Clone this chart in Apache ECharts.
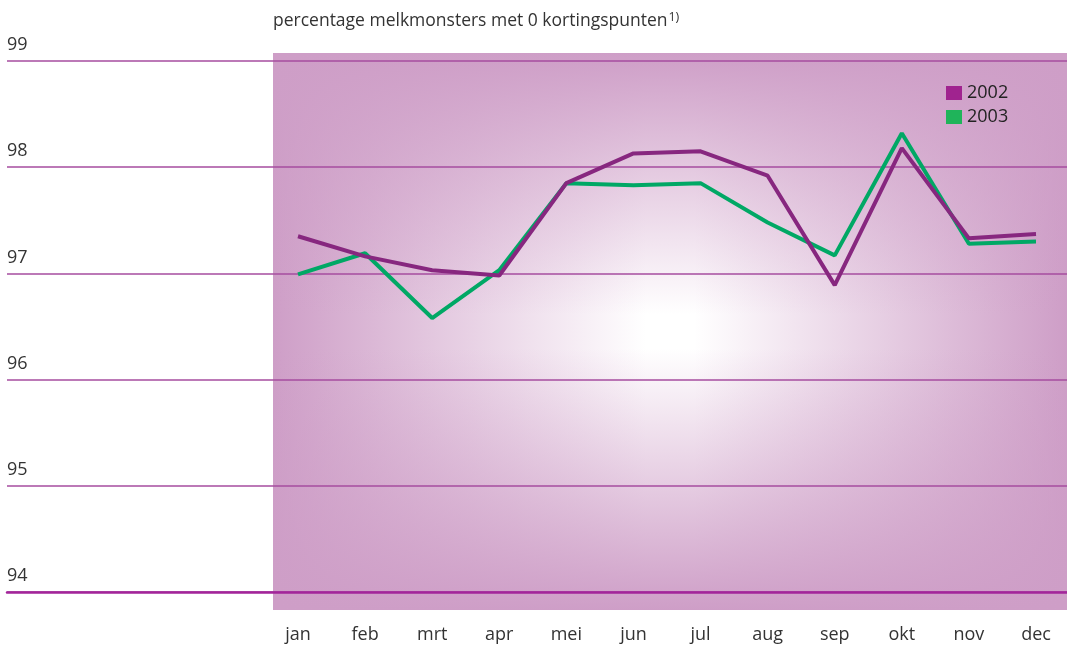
<!DOCTYPE html>
<html lang="nl">
<head>
    <meta charset="UTF-8">
    <title>melkmonsters</title>
    <script src="https://cdn.jsdelivr.net/npm/echarts@6/dist/echarts.min.js"></script>
    <style type="text/css">
        html, body { margin: 0; padding: 0; background: #fff; }
        #chart { width: 1067px; height: 649px; }
    </style>
</head>
<body>
<div id="chart"></div>
<script type="text/javascript">
    var months = ['jan', 'feb', 'mrt', 'apr', 'mei', 'jun', 'jul', 'aug', 'sep', 'okt', 'nov', 'dec'];
    var data2002 = [97.35, 97.16, 97.03, 96.98, 97.85, 98.13, 98.15, 97.92, 96.89, 98.18, 97.33, 97.37];
    var data2003 = [96.99, 97.19, 96.58, 97.03, 97.85, 97.83, 97.85, 97.48, 97.17, 98.32, 97.28, 97.30];
    var yMin = 94, yMax = 99;

    var font = '"Open Sans", "Noto Sans", sans-serif';
    var edge = 'rgba(206,158,199,1)';
    var clear = 'rgba(206,158,199,0)';

    var chart = echarts.init(document.getElementById('chart'));

    // achtergrondvlak met verloop naar wit in het midden
    function fade(x2, y2) {
        return new echarts.graphic.LinearGradient(0, 0, x2, y2, [
            { offset: 0, color: edge }, { offset: 0.47, color: clear },
            { offset: 0.53, color: clear }, { offset: 1, color: edge }]);
    }
    var plotRect = { x: 273, y: 53, width: 794, height: 557 };

    var option = {
        animation: false,
        textStyle: { fontFamily: font },
        title: {
            text: 'percentage melkmonsters met 0 kortingspunten{sup|1)}',
            left: 268,
            top: 6,
            textStyle: {
                fontFamily: font, fontSize: 17.5, fontWeight: 'normal', color: '#333',
                rich: { sup: { fontSize: 12.5, verticalAlign: 'top', padding: [0, 0, 8, 1], color: '#333' } }
            }
        },
        graphic: [
            { type: 'rect', z: -100, shape: plotRect, style: { fill: '#fff' } },
            { type: 'rect', z: -99, shape: plotRect, style: { fill: fade(1, 0) } },
            { type: 'rect', z: -98, shape: plotRect, style: { fill: fade(0, 1) } }
        ],
        legend: {
            orient: 'vertical',
            left: 941,
            top: 79,
            itemWidth: 16,
            itemHeight: 14,
            itemGap: 6,
            icon: 'rect',
            textStyle: { fontFamily: font, fontSize: 18, color: '#222' },
            data: [
                { name: '2002', itemStyle: { color: '#a0238f' } },
                { name: '2003', itemStyle: { color: '#1fb45a' } }
            ]
        },
        grid: [
            { left: 7, right: 0, top: 61, bottom: 57 },
            { left: 298, right: 31, top: 61, bottom: 57 }
        ],
        xAxis: [
            {
                gridIndex: 0, type: 'value', min: 0, max: 1,
                axisLine: { show: true, lineStyle: { color: '#a3259a', width: 2.5 } },
                axisTick: { show: false }, axisLabel: { show: false }, splitLine: { show: false }
            },
            {
                gridIndex: 1, type: 'category', data: months, boundaryGap: false,
                axisLine: { show: false }, axisTick: { show: false }, splitLine: { show: false },
                axisLabel: { fontFamily: font, fontSize: 18, color: '#333', margin: 34 }
            }
        ],
        yAxis: [
            {
                gridIndex: 0, type: 'value', min: yMin, max: yMax, interval: 1,
                axisLine: { show: false }, axisTick: { show: false },
                axisLabel: {
                    inside: true, fontFamily: font, fontSize: 18, color: '#333',
                    verticalAlign: 'bottom', margin: 0, padding: [0, 0, 7, 0]
                },
                splitLine: { show: true, lineStyle: { color: '#a64c9f', width: 1.5 } }
            },
            {
                gridIndex: 1, type: 'value', min: yMin, max: yMax, show: false
            }
        ],
        series: [
            {
                name: '2002', type: 'line', xAxisIndex: 1, yAxisIndex: 1,
                data: data2002, showSymbol: false, z: 3,
                itemStyle: { color: '#a0238f' },
                lineStyle: { color: '#87277f', width: 4 }
            },
            {
                name: '2003', type: 'line', xAxisIndex: 1, yAxisIndex: 1,
                data: data2003, showSymbol: false, z: 2,
                itemStyle: { color: '#1fb45a' },
                lineStyle: { color: '#00a865', width: 4 }
            }
        ]
    };
    chart.setOption(option);
</script>
</body>
</html>
